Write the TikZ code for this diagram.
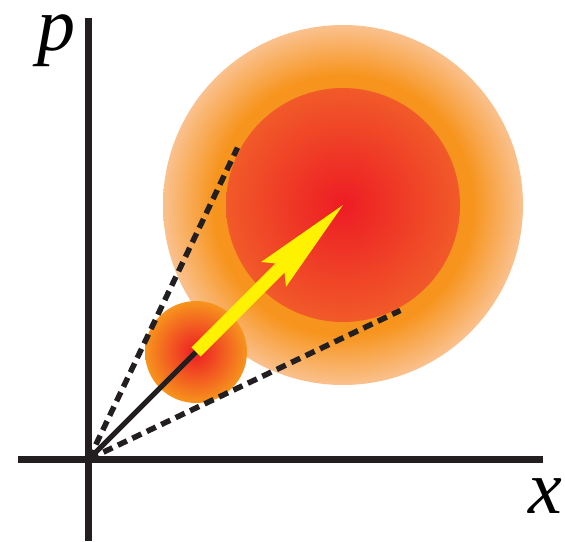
\documentclass[tikz,border=0pt]{standalone}
\usepackage{fontspec}
\setmainfont{Liberation Serif}
\usetikzlibrary{arrows.meta}
\definecolor{cRed}{HTML}{ED1C24}
\definecolor{cRedOr}{HTML}{F15A29}
\definecolor{cOrange}{HTML}{F7941D}
\definecolor{cPeach}{HTML}{FAC18E}
\definecolor{cYellow}{HTML}{FFF200}
\definecolor{cInk}{HTML}{231F20}
\pgfdeclareradialshading{halo}{\pgfpoint{0bp}{0bp}}%
  {color(0bp)=(cOrange); color(18bp)=(cOrange); color(25bp)=(cPeach); color(50bp)=(cPeach)}
\pgfdeclareradialshading{core}{\pgfpoint{0bp}{0bp}}%
  {color(0bp)=(cRed); color(25bp)=(cRedOr); color(50bp)=(cRedOr)}
\pgfdeclareradialshading{blob}{\pgfpoint{0bp}{0bp}}%
  {color(0bp)=(cRed); color(25bp)=(cOrange); color(50bp)=(cOrange)}
\tikzset{
  axis/.style={draw=cInk, line width=7pt},
  cone/.style={draw=cInk, line width=5.5pt, dash pattern=on 10pt off 6pt},
  ray/.style={draw=cInk, line width=5pt},
  push/.style={draw=cYellow, line width=13pt,
               -{Stealth[length=98pt, width=35pt, inset=14pt, line width=1pt]}},
  lab/.style={font=\fontsize{76}{76}\selectfont\itshape, anchor=base, inner sep=0pt},
}

\begin{document}
\begin{tikzpicture}[x=1pt, y=1pt]
\useasboundingbox (-89,-82) rectangle (476,459);

\coordinate (O) at (0,0);
\coordinate (near) at (107,107);
\coordinate (far) at (254,254);

% packet now (small) and later (spread out)
\shade[shading=halo] (far) circle[radius=180pt];
\shade[shading=core] (far) circle[radius=117pt];
\shade[shading=blob] (near) circle[radius=51pt];

\draw[axis] (0,-82) -- (0,441);
\draw[axis] (-71,0) -- (454,0);

\draw[cone] (O) -- (64.5:345pt);
\draw[cone] (O) -- (25.5:345pt);
\draw[ray] (O) -- (near);
\draw[push] (near) -- (far);

\node[lab] (plab) at (-32,408) {p};
\node[lab] (xlab) at (456,-54) {x};
\end{tikzpicture}
\end{document}
